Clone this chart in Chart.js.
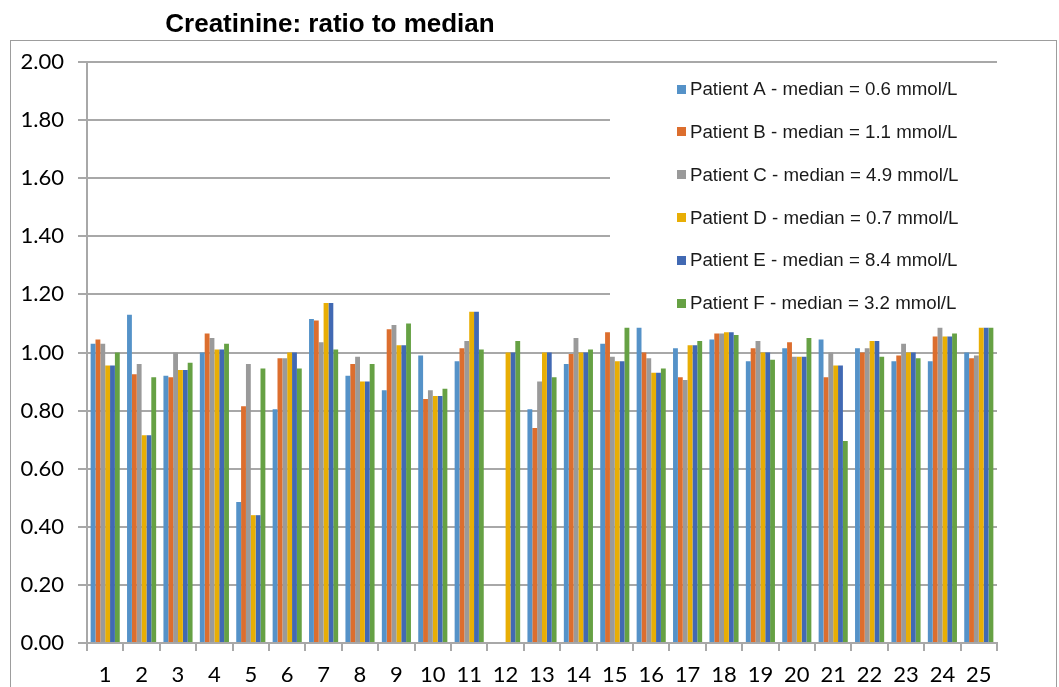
<!DOCTYPE html>
<html>
<head>
<meta charset="utf-8">
<script src="https://cdn.jsdelivr.net/npm/chart.js@4/dist/chart.umd.min.js"></script>
<style>
  html, body { margin: 0; padding: 0; background: #fff; }
  canvas { display: block; }
</style>
</head>
<body>
<canvas id="c" width="1059" height="687"></canvas>
<script>
// Sample numbers 1..25
const categories = ['1','2','3','4','5','6','7','8','9','10','11','12','13','14','15','16','17','18','19','20','21','22','23','24','25'];

const seriesLabels = [
  'Patient A - median = 0.6 mmol/L',
  'Patient B - median = 1.1 mmol/L',
  'Patient C - median = 4.9 mmol/L',
  'Patient D - median = 0.7 mmol/L',
  'Patient E - median = 8.4 mmol/L',
  'Patient F - median = 3.2 mmol/L'
];

// Ratio of each creatinine result to the patient's median
const patientA = [1.03, 1.13, 0.92, 1.00, 0.485, 0.805, 1.115, 0.92, 0.87, 0.99, 0.97, null, 0.805, 0.96, 1.03, 1.085, 1.015, 1.045, 0.97, 1.015, 1.045, 1.015, 0.97, 0.97, 1.00];
const patientB = [1.045, 0.925, 0.915, 1.065, 0.815, 0.98, 1.11, 0.96, 1.08, 0.84, 1.015, null, 0.74, 0.995, 1.07, 1.00, 0.915, 1.065, 1.015, 1.035, 0.915, 1.00, 0.99, 1.055, 0.98];
const patientC = [1.03, 0.96, 1.00, 1.05, 0.96, 0.98, 1.035, 0.985, 1.095, 0.87, 1.04, null, 0.90, 1.05, 0.985, 0.98, 0.905, 1.065, 1.04, 0.985, 1.00, 1.015, 1.03, 1.085, 0.99];
const patientD = [0.955, 0.715, 0.94, 1.01, 0.44, 1.00, 1.17, 0.90, 1.025, 0.85, 1.14, 1.00, 1.00, 1.00, 0.97, 0.93, 1.025, 1.07, 1.00, 0.985, 0.955, 1.04, 1.00, 1.055, 1.085];
const patientE = [0.955, 0.715, 0.94, 1.01, 0.44, 1.00, 1.17, 0.90, 1.025, 0.85, 1.14, 1.00, 1.00, 1.00, 0.97, 0.93, 1.025, 1.07, 1.00, 0.985, 0.955, 1.04, 1.00, 1.055, 1.085];
const patientF = [1.00, 0.915, 0.965, 1.03, 0.945, 0.945, 1.01, 0.96, 1.10, 0.875, 1.01, 1.04, 0.915, 1.01, 1.085, 0.945, 1.04, 1.06, 0.975, 1.05, 0.695, 0.985, 0.98, 1.065, 1.085];

const seriesColors = ['#5592C8', '#DC6E2E', '#9A9A9A', '#E8AE05', '#4169B3', '#66A144'];
const yTicks = [0, 0.2, 0.4, 0.6, 0.8, 1.0, 1.2, 1.4, 1.6, 1.8, 2.0];

const chartTitle = 'Creatinine: ratio to median';
const gridColor = '#a8a8a8';
const axisFont = { family: 'Lato, "Liberation Sans", sans-serif', size: 22 };

const allSeries = [patientA, patientB, patientC, patientD, patientE, patientF];

// White page with the thin grey outline of the chart object
const framePlugin = {
  id: 'frame',
  beforeDraw(chart) {
    const ctx = chart.ctx;
    ctx.save();
    ctx.fillStyle = '#ffffff';
    ctx.fillRect(0, 0, chart.width, chart.height);
    ctx.strokeStyle = '#9d9d9d';
    ctx.lineWidth = 1;
    ctx.strokeRect(10.5, 40.5, 1046, 700);
    ctx.restore();
  }
};

// Bold heading above the plot
const headingPlugin = {
  id: 'heading',
  afterDraw(chart) {
    const ctx = chart.ctx;
    ctx.save();
    ctx.fillStyle = '#000';
    ctx.font = 'bold 26px "Liberation Sans", Arial, sans-serif';
    ctx.textAlign = 'center';
    ctx.textBaseline = 'middle';
    ctx.fillText(chartTitle, 330, 25);
    ctx.restore();
  }
};

// Legend panel sitting on top of the gridlines, inside the plot
const legendPanelPlugin = {
  id: 'legendPanel',
  beforeDatasetsDraw(chart) {
    const ctx = chart.ctx;
    const left = 610, top = 66, width = 388, height = 258;
    ctx.save();
    ctx.fillStyle = '#ffffff';
    ctx.fillRect(left, top, width, height);
    ctx.font = '18.7px "Liberation Sans", Arial, sans-serif';
    ctx.textBaseline = 'middle';
    ctx.textAlign = 'left';
    chart.data.datasets.forEach((ds, i) => {
      const y = 89 + i * 42.8;
      ctx.fillStyle = ds.backgroundColor;
      ctx.fillRect(677, Math.round(y - 4.5), 9, 9);
      ctx.fillStyle = '#1a1a1a';
      ctx.fillText(ds.label, 690, y + 1);
    });
    ctx.restore();
  }
};

new Chart(document.getElementById('c'), {
  type: 'bar',
  data: {
    labels: categories,
    datasets: allSeries.map((values, i) => ({
      label: seriesLabels[i],
      data: values,
      backgroundColor: seriesColors[i],
      borderWidth: 0,
      categoryPercentage: 0.8,
      barPercentage: 1.0
    }))
  },
  options: {
    responsive: false,
    animation: false,
    devicePixelRatio: 1,
    layout: { padding: { top: 62, right: 62, left: 0, bottom: 0 } },
    plugins: {
      legend: { display: false },
      title: { display: false },
      tooltip: { enabled: false }
    },
    scales: {
      x: {
        type: 'category',
        offset: true,
        grid: {
          offset: true,
          drawOnChartArea: false,
          drawTicks: true,
          tickLength: 8,
          color: gridColor,
          lineWidth: 2
        },
        border: { display: true, color: gridColor, width: 2 },
        ticks: {
          font: axisFont,
          color: '#000',
          padding: 11,
          maxRotation: 0,
          autoSkip: false
        },
        afterFit(scale) { scale.height = 44; }
      },
      y: {
        min: 0,
        max: 2,
        afterBuildTicks(scale) { scale.ticks = yTicks.map(v => ({ value: v })); },
        grid: {
          color: gridColor,
          lineWidth: 2,
          drawTicks: true,
          tickLength: 9
        },
        border: { display: true, color: gridColor, width: 2 },
        ticks: {
          font: axisFont,
          color: '#000',
          padding: 14,
          callback: v => Number(v).toFixed(2)
        },
        afterFit(scale) { scale.width = 87; }
      }
    }
  },
  plugins: [framePlugin, headingPlugin, legendPanelPlugin]
});
</script>
</body>
</html>
